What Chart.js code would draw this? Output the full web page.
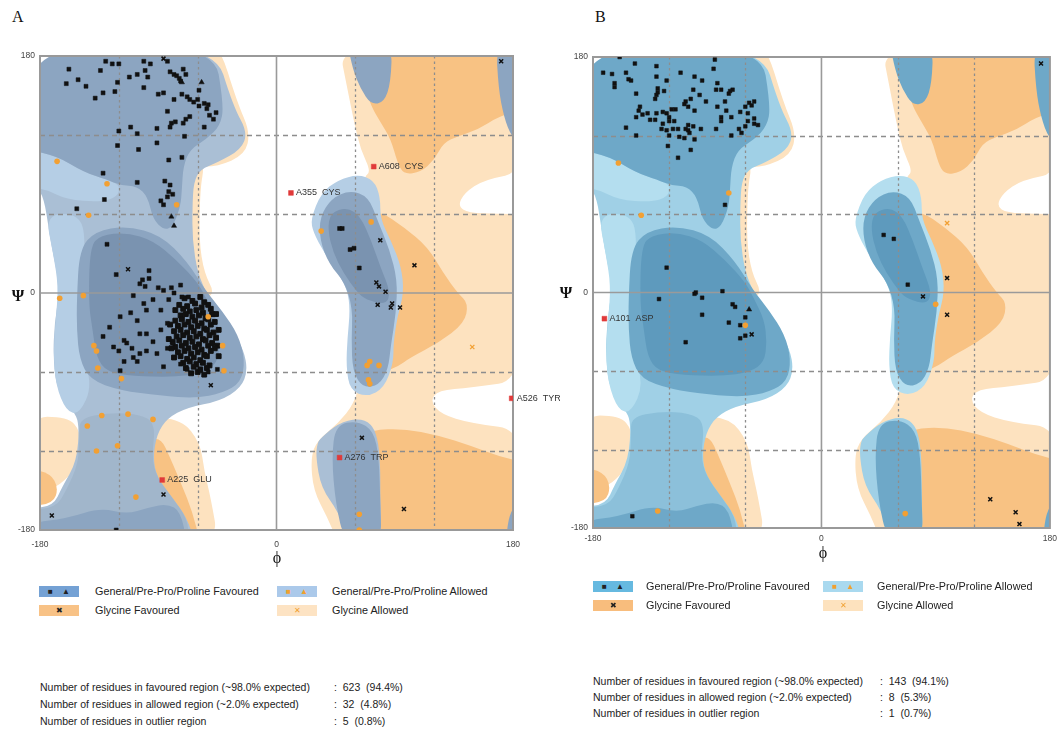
<!DOCTYPE html>
<html>
<head>
<meta charset="utf-8">
<script src="https://cdn.jsdelivr.net/npm/chart.js@4.4.1/dist/chart.umd.min.js"></script>
<style>
body { margin: 0; width: 1057px; height: 729px; overflow: hidden; background: #fff; position: relative;
       font-family: "Liberation Sans", Arial, sans-serif; color: #222; }
canvas { position: absolute; }
.c { position: absolute; transform: translate(-50%, -50%); white-space: pre; }
.g { font-family: "Liberation Serif", "DejaVu Serif", serif; font-size: 16px; color: #111; }
.t { position: absolute; white-space: pre; font-size: 10.8px; line-height: 12px; }
.sw { position: absolute; width: 40px; height: 11px; display: flex; justify-content: space-evenly; align-items: center;
      font-size: 8px; line-height: 8px; }
.st { position: absolute; white-space: pre; font-size: 10.5px; line-height: 12px; color: #222; }
</style>
</head>
<body>
<div class="t g" style="left:12px;top:11px;font-size:16px">A</div>
<div class="t g" style="left:595px;top:11px;font-size:16px">B</div>

<canvas id="chartA" width="560" height="575" style="left:0;top:0"></canvas>
<canvas id="chartB" width="515" height="575" style="left:548px;top:0"></canvas>

<div class="c g" style="left:18px;top:296px;font-weight:bold">Ψ</div>
<div class="c g" style="left:277px;top:558px">ϕ</div>
<div class="c g" style="left:566px;top:293px;font-weight:bold">Ψ</div>
<div class="c g" style="left:823px;top:553px">ϕ</div>

<!-- legend A -->
<div class="sw" style="left:39px;top:586px;background:#74a1d4"><span>■</span><span>▲</span></div>
<div class="t" style="left:95px;top:585px">General/Pre-Pro/Proline Favoured</div>
<div class="sw" style="left:277px;top:586px;background:#abc9ea;color:#f0a030"><span>■</span><span>▲</span></div>
<div class="t" style="left:332px;top:585px">General/Pre-Pro/Proline Allowed</div>
<div class="sw" style="left:39px;top:605px;background:#f8c286"><span>✖</span></div>
<div class="t" style="left:95px;top:604px">Glycine Favoured</div>
<div class="sw" style="left:277px;top:605px;background:#fde3c3;color:#f0a030"><span>✕</span></div>
<div class="t" style="left:332px;top:604px">Glycine Allowed</div>

<div class="st" style="left:40px;top:681px">Number of residues in favoured region (~98.0% expected)</div>
<div class="st" style="left:334px;top:681px">:  623  (94.4%)</div>
<div class="st" style="left:40px;top:698px">Number of residues in allowed region (~2.0% expected)</div>
<div class="st" style="left:334px;top:698px">:  32  (4.8%)</div>
<div class="st" style="left:40px;top:715px">Number of residues in outlier region</div>
<div class="st" style="left:334px;top:715px">:  5  (0.8%)</div>

<!-- legend B -->
<div class="sw" style="left:593px;top:581px;background:#66b9e0"><span>■</span><span>▲</span></div>
<div class="t" style="left:646px;top:580px">General/Pre-Pro/Proline Favoured</div>
<div class="sw" style="left:823px;top:581px;background:#a9d9ef;color:#f0a030"><span>■</span><span>▲</span></div>
<div class="t" style="left:877px;top:580px">General/Pre-Pro/Proline Allowed</div>
<div class="sw" style="left:593px;top:600px;background:#f8bd7d"><span>✖</span></div>
<div class="t" style="left:646px;top:599px">Glycine Favoured</div>
<div class="sw" style="left:823px;top:600px;background:#fde2be;color:#f0a030"><span>✕</span></div>
<div class="t" style="left:877px;top:599px">Glycine Allowed</div>

<div class="st" style="left:593px;top:675px">Number of residues in favoured region (~98.0% expected)</div>
<div class="st" style="left:880px;top:675px">:  143  (94.1%)</div>
<div class="st" style="left:593px;top:691px">Number of residues in allowed region (~2.0% expected)</div>
<div class="st" style="left:880px;top:691px">:  8  (5.3%)</div>
<div class="st" style="left:593px;top:707px">Number of residues in outlier region</div>
<div class="st" style="left:880px;top:707px">:  1  (0.7%)</div>

<script>
// axis ticks (degrees)
const tickValues = [-180, -120, -60, 0, 60, 120, 180];
const shownTicks = [-180, 0, 180];
const dashedGuides = [-120, -60, 60, 120];

// ---- region outlines, [phi, psi] in degrees ----
const glyAllowRight = [[47,190],[190,190],[190,92],[158,86],[143,76],[138,66],[146,61],[169,60],[190,60],[190,-66],[148,-72],[123,-74],[117,-82],[125,-92],[148,-99],[190,-104],[190,-190],[47,-190],[39,-171],[28,-150],[26,-125],[31,-112],[47,-99],[59,-84],[64,-66],[68,-5],[62,40],[66,88],[72,92],[64,109],[59,130],[54,155]];
const glyAllowLeftTop = [[-62,190],[-44,190],[-30,145],[-20,122],[-24,105],[-45,96],[-62,96]];
const glyAllowLeftRim = [[-60,100],[-55,96],[-58,80],[-59,40],[-55,15],[-47,0],[-55,-5],[-66,20],[-67,60],[-66,95]];
const glyAllowLeftBot = [[-102,-94],[-72,-96],[-58,-114],[-55,-135],[-50,-156],[-44,-190],[-102,-190]];
const glyAllowFarLeft = [[-190,-94],[-159,-94],[-149,-105],[-149,-125],[-158,-140],[-172,-150],[-190,-156]];

const glyFavTop = [[56,190],[190,190],[190,140],[169,134],[153,124],[138,119],[127,114],[120,101],[110,92],[97,90],[92,99],[87,117],[79,130],[72,142],[66,160],[58,175]];
const glyFavMid = [[60,62],[79,62],[97,50],[115,35],[127,15],[138,0],[146,-8],[143,-23],[123,-38],[102,-49],[92,-56],[82,-60],[70,-40],[66,0]];
const glyFavBot = [[64,-112],[72,-104],[97,-103],[123,-108],[148,-116],[169,-124],[190,-129],[190,-190],[64,-190]];
const glyFavLeftBot = [[-98,-112],[-88,-110],[-81,-125],[-72,-146],[-64,-166],[-58,-190],[-98,-190]];
const glyFavFarLeft = [[-190,-133],[-172,-137],[-166,-148],[-170,-160],[-190,-162]];

const outerLeft = [[-190,190],[-48,190],[-33,142],[-22,122],[-27,109],[-45,99],[-58,94],[-63,84],[-64,66],[-64,40],[-60,15],[-53,0],[-50,-13],[-35,-26],[-25,-43],[-22,-59],[-27,-72],[-43,-82],[-68,-87],[-83,-95],[-91,-107],[-94,-125],[-91,-140],[-79,-156],[-68,-171],[-62,-190],[-190,-190],[-190,-164],[-170,-162],[-163,-147],[-152,-128],[-150,-99],[-155,-89],[-167,-74],[-170,-49],[-169,-23],[-165,2],[-167,15],[-172,40],[-178,79],[-190,82]];
const outerLowerBlob = [[34,-110],[47,-99],[62,-95],[72,-99],[77,-110],[79,-130],[79,-156],[80,-190],[56,-190],[47,-166],[34,-148],[30,-125],[31,-114]];

const skyPatch = [[-190,109],[-167,104],[-147,92],[-129,86],[-119,82],[-121,73],[-134,69],[-160,71],[-176,79],[-190,80]];
const skyStrip = [[-176,60],[-150,60],[-145,40],[-150,0],[-150,-40],[-140,-70],[-150,-92],[-160,-90],[-168,-70],[-170,-45],[-168,-20],[-166,5],[-170,30]];
const skyRightBlob = [[26,56],[34,76],[47,86],[62,90],[74,86],[79,73],[79,56],[87,40],[95,20],[97,0],[92,-18],[89,-38],[89,-53],[82,-72],[69,-79],[56,-74],[53,-56],[54,-34],[56,-13],[54,2],[47,15],[36,31],[28,46]];

const midBridge = [[-150,-95],[-127,-91],[-104,-92],[-92,-99],[-95,-125],[-91,-140],[-79,-156],[-68,-171],[-66,-190],[-190,-190],[-190,-165],[-168,-163],[-160,-150],[-151,-130],[-150,-110]];

const favBeta = [[-190,109],[-167,104],[-147,92],[-129,86],[-119,82],[-106,81],[-98,73],[-94,56],[-86,48],[-79,50],[-73,66],[-72,79],[-71,96],[-66,109],[-53,117],[-43,127],[-40,142],[-48,190],[-190,190]];
const favBottomBand = [[-190,-190],[-190,-175],[-159,-171],[-134,-163],[-114,-168],[-98,-163],[-83,-160],[-73,-166],[-68,-190]];
const favAlpha = [[-150,33],[-138,47],[-114,51],[-88,44],[-68,24],[-54,2],[-41,-14],[-29,-32],[-24,-51],[-27,-68],[-41,-76],[-62,-80],[-88,-78],[-119,-74],[-142,-66],[-150,-50],[-152,-28],[-152,-5]];
const favRightBlob = [[33,58],[42,72],[56,78],[70,73],[77,55],[86,33],[92,10],[91,-15],[87,-40],[85,-58],[78,-70],[66,-72],[58,-60],[57,-35],[58,-12],[52,8],[40,22],[33,40]];
const favLowerBlob = [[45,-100],[62,-97],[74,-105],[78,-125],[79,-160],[80,-190],[52,-190],[45,-160],[42,-125]];
const favTopBlob = [[54,190],[88,190],[87,160],[82,145],[72,143],[64,155],[58,170]];
const favRightStrip = [[167,190],[190,190],[190,109],[179,118],[173,134],[169,155]];
const favRightStripBot = [[174,-190],[190,-190],[190,-158],[178,-163]];

const coreAlpha = [[-142,35],[-134,44],[-114,46],[-94,40],[-76,25],[-60,8],[-53,-5],[-45,-21],[-43,-38],[-45,-53],[-56,-61],[-79,-64],[-109,-63],[-129,-60],[-137,-49],[-140,-28],[-143,-8]];
const coreRightBlob = [[41,61],[54,65],[64,58],[72,40],[79,20],[87,0],[83,-9],[68,-5],[62,0],[51,15],[43,31],[39,48]];

const regionShapes = {
  glyAllowed: [glyAllowRight, glyAllowLeftTop, glyAllowLeftRim, glyAllowLeftBot, glyAllowFarLeft],
  glyFav: [glyFavTop, glyFavMid, glyFavBot, glyFavLeftBot, glyFavFarLeft],
  outer: [outerLeft, outerLowerBlob],
  sky: [skyPatch, skyStrip, skyRightBlob],
  mid: [midBridge],
  fav: [favBeta, favBottomBand, favAlpha, favRightBlob, favLowerBlob, favTopBlob, favRightStrip, favRightStripBot],
  core: [coreAlpha, coreRightBlob]
};
const layerOrder = ['glyAllowed', 'glyFav', 'outer', 'sky', 'mid', 'fav', 'core'];

const coloursA = { glyAllowed: '#fde2bf', glyFav: '#f8c283', outer: '#aabfd5', sky: '#b5cee5', mid: '#a1b6cb', fav: '#8ca5c1', core: '#7a93b0' };
const coloursB = { glyAllowed: '#fde2bf', glyFav: '#f8c283', outer: '#a0d0e6', sky: '#b4deef', mid: '#8cc0da', fav: '#6ea8c8', core: '#5e9abd' };

// ---- residues, panel A ----
const aGeneral = [
[-158,170],[-130,176],[-125,174],[-120,174],[-101,176],[-96,174],[-83,176],
[-160,159],[-151,162],[-145,157],[-134,169],[-138,148],[-132,152],[-123,153],[-121,160],[-112,164],[-106,166],[-100,169],[-98,164],[-101,156],[-90,151],[-86,152],[-81,168],[-78,166],[-76,165],[-74,163],[-71,170],[-69,166],[-73,161],[-59,154],[-78,147],[-72,151],[-68,149],[-66,147],[-63,145],[-60,147],[-59,142],[-55,144],[-52,143],[-53,140],[-51,135],[-48,132],[-46,137],[-83,138],[-80,129],[-81,126],[-77,130],[-71,129],[-69,132],[-66,134],[-55,126],[-70,119],[-91,125],[-106,121],[-111,126],[-120,123],[-121,112],[-105,109],[-91,114],[-82,101],[-72,103],[-132,91],[-106,84],[-85,85],[-81,82],[-82,77],[-79,75],[-83,73],[-88,70],[-86,67],[-131,71],[-152,64],[-129,37],[-122,14],[-97,17],[-102,10],[-97,11],[-100,5],[-104,7],[-90,4],[-86,2],[-80,4],[-73,6],[-67,-3],
[-109,-2],[-101,-8],[-94,-5],[-99,-13],[-88,-13],[-82,-5],[-78,0],[-72,-3],[-111,-15],[-106,-21],[-119,-18],[-127,-26],[-132,-33],[-104,-31],[-99,-31],[-88,-28],[-83,-23],[-94,-37],[-110,-42],[-114,-38],[-120,-44],[-124,-41],[-116,-36],[-109,-49],[-106,-52],[-116,-52],[-119,-59],[-104,-46],[-99,-44],[-91,-46],[-83,-42],[-79,-38],[-78,-49],[-86,-56],[-73,-54],[-68,-58],[-58,-59],[-52,-60],[-45,-58],[-122,-180],
[48,49],[50,49],[56,33],[59,34],[63,19]
];
const aCluster = [
[-70,-4],[-64,-6],[-58,-3],[-55,-7],
[-74,-9],[-68,-10],[-62,-8],[-57,-11],[-52,-9],
[-77,-13],[-71,-12],[-66,-14],[-61,-13],[-56,-15],[-50,-12],
[-73,-17],[-69,-16],[-64,-18],[-59,-17],[-54,-19],[-49,-16],
[-77,-21],[-72,-20],[-67,-22],[-62,-21],[-57,-23],[-52,-20],[-47,-22],
[-75,-25],[-70,-24],[-65,-26],[-60,-25],[-55,-27],[-50,-24],
[-78,-29],[-73,-28],[-68,-30],[-63,-29],[-58,-31],[-53,-28],[-48,-30],
[-76,-33],[-71,-32],[-66,-34],[-61,-33],[-56,-35],[-51,-32],[-46,-34],
[-79,-37],[-74,-36],[-69,-38],[-64,-37],[-59,-39],[-54,-36],[-49,-38],[-45,-40],
[-77,-41],[-72,-40],[-67,-42],[-62,-41],[-57,-43],[-52,-40],[-47,-42],
[-75,-45],[-70,-44],[-65,-46],[-60,-45],[-55,-47],[-50,-44],
[-78,-49],[-73,-48],[-68,-50],[-63,-49],[-58,-51],[-53,-48],
[-71,-53],[-66,-52],[-61,-54],[-56,-53],[-51,-55],
[-69,-57],[-63,-56],[-58,-58],[-53,-57],
[-65,-61],[-60,-60],[-55,-62],
[-80,-42],[-82,-35],[-44,-28],[-46,-16],[-81,-24],[-44,-48]
];
const aProline = [[-72,160],[-57,160],[-80,58],[-78,51]];
const aGlyFav = [[-86,178],[-113,18],[-50,-70],[-86,-153],[-171,-169],[171,176],[79,40],[105,21],[76,8],[78,5],[83,1],[77,-9],[88,-8],[87,-11],[94,-11],[65,-110],[97,-164]];
const aAllowed = [[-167,100],[-129,83],[-143,59],[-76,67],[-165,-4],[-147,-2],[-139,-40],[-137,-44],[-136,-57],[-118,-65],[-52,-18],[-41,-40],[-40,-59],[-133,-93],[-113,-92],[-94,-96],[-144,-101],[-121,-116],[-137,-120],[-107,-155],[34,47],[72,54],[69,-55],[71,-52],[78,-55],[70,-66],[71,-69],[63,-168],[63,-180]];
const aGlyAllowed = [[149,-41]];
const aOutliers = [[74,96],[11,76],[179,-80],[48,-125],[-87,-142]];
const aOutlierLabels = ['A608  CYS', 'A355  CYS', 'A526  TYR', 'A276  TRP', 'A225  GLU'];

// ---- residues, panel B ----
const bGeneral = [
[-159,180],[-172,168],[-165,167],[-163,160],[-163,157],[-154,168],[-152,163],[-150,162],[-147,175],[-146,152],[-130,173],[-130,165],[-129,156],[-129,153],[-130,151],[-131,148],[-124,154],[-122,162],[-111,168],[-100,165],[-94,162],[-84,178],[-85,171],[-82,160],[-83,155],[-79,155],[-73,152],[-70,155],[-72,154],[-76,146],[-82,142],[-91,146],[-96,151],[-101,155],[-103,148],[-107,146],[-108,144],[-105,142],[-100,139],[-143,142],[-144,139],[-141,136],[-146,134],[-135,132],[-131,132],[-137,137],[-130,137],[-125,138],[-122,137],[-118,140],[-115,140],[-120,134],[-120,131],[-125,129],[-126,125],[-122,124],[-120,120],[-117,125],[-113,125],[-116,131],[-105,128],[-107,125],[-101,127],[-95,125],[-105,124],[-104,122],[-108,118],[-100,117],[-103,109],[-113,103],[-121,112],[-112,119],[-154,126],[-146,120],[-83,125],[-79,134],[-79,131],[-75,139],[-71,134],[-65,125],[-63,122],[-71,120],[-64,138],[-60,142],[-58,137],[-57,145],[-55,143],[-53,146],[-53,133],[-53,129],[-50,128],[-58,131],[-60,127],[-76,67],[-122,19],
[-128,-5],[-100,-1],[-99,0],[-94,-4],[-78,1],[-70,-9],[-68,-11],[-60,-19],[-94,-17],[-73,-23],[-64,-25],[-64,-35],[-60,-33],[-107,-38],[-149,-171],
[49,44],[57,41],[68,6]
];
const bProline = [[-57,-13]];
const bGlyFav = [[173,175],[99,11],[80,-3],[99,-17],[133,-158],[153,-168],[156,-177],[-55,-32]];
const bAllowed = [[-160,99],[-73,76],[-142,59],[-60,-25],[-129,-167],[90,-9],[66,-169]];
const bGlyAllowed = [[99,53]];
const bOutliers = [[-171,-20]];
const bOutlierLabels = ['A101  ASP'];

function smoothClosed(ctx, pts) {
  const n = pts.length;
  const mid = (a, b) => [(a[0] + b[0]) / 2, (a[1] + b[1]) / 2];
  const start = mid(pts[n - 1], pts[0]);
  ctx.moveTo(start[0], start[1]);
  for (let i = 0; i < n; i++) {
    const m = mid(pts[i], pts[(i + 1) % n]);
    ctx.quadraticCurveTo(pts[i][0], pts[i][1], m[0], m[1]);
  }
  ctx.closePath();
}

// draws the contour regions and guide lines under the points, and outlier labels on top
function ramaPlugin(colours, outliers, labels) {
  return {
    id: 'rama',
    beforeDraw(chart) {
      const { ctx, chartArea: a } = chart;
      const x = chart.scales.x, y = chart.scales.y;
      ctx.save();
      ctx.beginPath();
      ctx.rect(a.left, a.top, a.right - a.left, a.bottom - a.top);
      ctx.clip();
      layerOrder.forEach(name => {
        ctx.fillStyle = colours[name];
        regionShapes[name].forEach(shape => {
          ctx.beginPath();
          smoothClosed(ctx, shape.map(p => [x.getPixelForValue(p[0]), y.getPixelForValue(p[1])]));
          ctx.fill();
        });
      });
      ctx.strokeStyle = '#8d8d8d';
      ctx.lineWidth = 1.3;
      dashedGuides.forEach(v => {
        const px = Math.round(x.getPixelForValue(v)) + 0.5;
        ctx.setLineDash([2.5, 3]);
        ctx.beginPath(); ctx.moveTo(px, a.top); ctx.lineTo(px, a.bottom); ctx.stroke();
        const py = Math.round(y.getPixelForValue(v)) + 0.5;
        ctx.setLineDash([5, 4]);
        ctx.beginPath(); ctx.moveTo(a.left, py); ctx.lineTo(a.right, py); ctx.stroke();
      });
      ctx.setLineDash([]);
      ctx.strokeStyle = '#9a9a9a';
      ctx.lineWidth = 1.6;
      const x0 = x.getPixelForValue(0), y0 = y.getPixelForValue(0);
      ctx.beginPath(); ctx.moveTo(x0, a.top); ctx.lineTo(x0, a.bottom); ctx.stroke();
      ctx.beginPath(); ctx.moveTo(a.left, y0); ctx.lineTo(a.right, y0); ctx.stroke();
      ctx.restore();
      ctx.save();
      ctx.strokeStyle = '#999';
      ctx.lineWidth = 2;
      ctx.strokeRect(a.left, a.top, a.right - a.left, a.bottom - a.top);
      ctx.restore();
    },
    afterDatasetsDraw(chart) {
      const { ctx } = chart;
      const x = chart.scales.x, y = chart.scales.y;
      ctx.save();
      ctx.font = '9px "Liberation Sans", Arial, sans-serif';
      ctx.fillStyle = '#333';
      ctx.textBaseline = 'middle';
      outliers.forEach((p, i) => {
        ctx.fillText(labels[i], x.getPixelForValue(p[0]) + 5, y.getPixelForValue(p[1]));
      });
      ctx.restore();
    }
  };
}

const toXY = arr => arr.map(p => ({ x: p[0], y: p[1] }));

function marks(data, style, radius, fill, line, width) {
  return {
    data: toXY(data), pointStyle: style, pointRadius: radius, pointHoverRadius: radius,
    backgroundColor: fill, borderColor: line, borderWidth: width, showLine: false
  };
}

function axis(fitSize, padding) {
  return {
    type: 'linear', min: -180, max: 180,
    afterBuildTicks: s => { s.ticks = tickValues.map(v => ({ value: v })); },
    ticks: {
      autoSkip: false, maxRotation: 0, padding: padding, color: '#444',
      font: { family: '"Liberation Sans", Arial, sans-serif', size: 8.5 },
      callback: v => shownTicks.includes(v) ? String(v) : ''
    },
    grid: { display: false, drawTicks: false, tickLength: 0 },
    border: { display: false },
    afterFit: s => { if (s.isHorizontal()) s.height = fitSize; else s.width = fitSize; }
  };
}

function makeChart(id, colours, sets, outliers, labels, pad, yWidth, xHeight, xPad, sq) {
  return new Chart(document.getElementById(id), {
    type: 'scatter',
    data: {
      datasets: [
        marks(sets.allowed, 'circle', 2.8, '#f2a033', '#f2a033', 0),
        marks(sets.glyAllowed, 'crossRot', 3, '#f2a033', '#f2a033', 1.3),
        marks(sets.general, 'rect', sq, '#111', '#111', 0.5),
        marks(sets.cluster, 'rect', 3.4, '#111', '#111', 1),
        marks(sets.proline, 'triangle', 3, '#111', '#111', 0.5),
        marks(sets.glyFav, 'crossRot', 2.8, '#111', '#111', 1.5),
        marks(outliers, 'rect', 3.4, '#e03a3a', '#e03a3a', 0.5)
      ]
    },
    options: {
      responsive: false, animation: false, events: [],
      layout: { padding: pad },
      plugins: { legend: { display: false }, tooltip: { enabled: false } },
      scales: { x: axis(xHeight, xPad), y: axis(yWidth, 5) }
    },
    plugins: [ramaPlugin(colours, outliers, labels)]
  });
}

makeChart('chartA', coloursA,
  { general: aGeneral, cluster: aCluster, proline: aProline, glyFav: aGlyFav, allowed: aAllowed, glyAllowed: aGlyAllowed },
  aOutliers, aOutlierLabels, { top: 56, right: 47, left: 0, bottom: 0 }, 40, 45, 10, 2.8);

makeChart('chartB', coloursB,
  { general: bGeneral, cluster: [], proline: bProline, glyFav: bGlyFav, allowed: bAllowed, glyAllowed: bGlyAllowed },
  bOutliers, bOutlierLabels, { top: 57, right: 10, left: 0, bottom: 0 }, 45, 47, 6, 2.6);
</script>
</body>
</html>
